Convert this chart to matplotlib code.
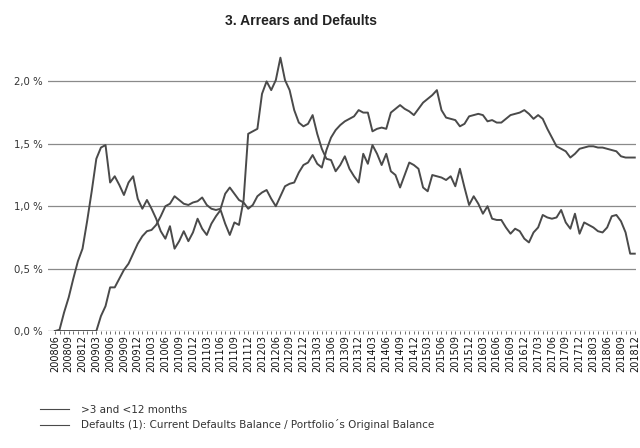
import matplotlib
matplotlib.use('Agg')
import matplotlib.pyplot as plt
import numpy as np
import pandas as pd

# monthly reporting dates 200806 .. 201812
months = list(pd.period_range('2008-06', '2018-12', freq='M').strftime('%Y%m'))

# >3 and <12 months arrears (% of portfolio)
arrears = [
    0.00, 0.01, 0.15, 0.27, 0.42, 0.56, 0.66, 0.88, 1.12, 1.38,
    1.47, 1.49, 1.19, 1.24, 1.17, 1.09, 1.19, 1.24, 1.06, 0.98,
    1.05, 0.98, 0.90, 0.80, 0.74, 0.84, 0.66, 0.72, 0.80, 0.72,
    0.79, 0.90, 0.82, 0.77, 0.86, 0.92, 0.97, 0.86, 0.77, 0.87,
    0.85, 1.05, 1.58, 1.60, 1.62, 1.90, 2.00, 1.93, 2.01, 2.19,
    2.01, 1.93, 1.77, 1.67, 1.64, 1.66, 1.73, 1.58, 1.46, 1.38,
    1.37, 1.28, 1.33, 1.40, 1.30, 1.24, 1.19, 1.42, 1.34, 1.49,
    1.42, 1.33, 1.42, 1.28, 1.25, 1.15, 1.25, 1.35, 1.33, 1.30,
    1.15, 1.12, 1.25, 1.24, 1.23, 1.21, 1.24, 1.16, 1.30, 1.15,
    1.01, 1.08, 1.02, 0.94, 1.00, 0.90, 0.89, 0.89, 0.83, 0.78,
    0.82, 0.80, 0.74, 0.71, 0.79, 0.83, 0.93, 0.91, 0.90, 0.91,
    0.97, 0.87, 0.82, 0.94, 0.78, 0.87, 0.85, 0.83, 0.80, 0.79,
    0.83, 0.92, 0.93, 0.88, 0.79, 0.62, 0.62,
]

# cumulative defaults / original balance (%)
defaults = [
    0.00, 0.00, 0.00, 0.00, 0.00, 0.00, 0.00, 0.00, 0.00, 0.00,
    0.12, 0.20, 0.35, 0.35, 0.42, 0.49, 0.54, 0.62, 0.70, 0.76,
    0.80, 0.81, 0.85, 0.92, 1.00, 1.02, 1.08, 1.05, 1.02, 1.01,
    1.03, 1.04, 1.07, 1.01, 0.98, 0.97, 0.98, 1.10, 1.15, 1.10,
    1.05, 1.03, 0.98, 1.01, 1.08, 1.11, 1.13, 1.06, 1.00, 1.08,
    1.16, 1.18, 1.19, 1.27, 1.33, 1.35, 1.41, 1.34, 1.31, 1.45,
    1.55, 1.61, 1.65, 1.68, 1.70, 1.72, 1.77, 1.75, 1.75, 1.60,
    1.62, 1.63, 1.62, 1.75, 1.78, 1.81, 1.78, 1.76, 1.73, 1.78,
    1.83, 1.86, 1.89, 1.93, 1.77, 1.71, 1.70, 1.69, 1.64, 1.66,
    1.72, 1.73, 1.74, 1.73, 1.68, 1.69, 1.67, 1.67, 1.70, 1.73,
    1.74, 1.75, 1.77, 1.74, 1.70, 1.73, 1.70, 1.62, 1.55, 1.48,
    1.46, 1.44, 1.39, 1.42, 1.46, 1.47, 1.48, 1.48, 1.47, 1.47,
    1.46, 1.45, 1.44, 1.40, 1.39, 1.39, 1.39,
]

y_ticks = [0.0, 0.5, 1.0, 1.5, 2.0]
y_labels = ['0,0 %', '0,5 %', '1,0 %', '1,5 %', '2,0 %']

x = np.arange(len(months))
line_col = '#4a4a4a'

fig = plt.figure(figsize=(6.4, 4.48), dpi=100)
ax = fig.add_axes([0.075, 0.261, 0.919, 0.627])

for v in y_ticks[1:]:
    ax.axhline(v, color='#8a8a8a', lw=0.9, zorder=1)
ax.axhline(0, color='#555555', lw=0.9, zorder=1)

l1, = ax.plot(x, arrears, color=line_col, lw=1.4, zorder=3,
              label='>3 and <12 months')
l2, = ax.plot(x, defaults, color=line_col, lw=1.4, zorder=3,
              label='Defaults (1): Current Defaults Balance / Portfolio\u00b4s Original Balance')

ax.set_xlim(-1.5, 126.3)
ax.set_ylim(0, 2.25)
for s in ax.spines.values():
    s.set_visible(False)

ax.set_yticks(y_ticks)
ax.set_yticklabels(y_labels, fontsize=7.3, color='#333333')
ax.tick_params(axis='y', length=0, pad=4)

ax.set_xticks(x[::3])
ax.set_xticklabels(months[::3], rotation=90, fontsize=7, color='#111111')
ax.set_xticks(x, minor=True)
ax.tick_params(axis='x', which='both', length=2, width=0.6, color='#555555', pad=1)

fig.text(0.47, 0.953, '3. Arrears and Defaults', ha='center', va='center',
         fontsize=10, fontweight='bold', family='Liberation Sans', color='#222222')

fig.legend(handles=[l1, l2], loc='upper left', bbox_to_anchor=(0.062, 0.097),
           frameon=False, fontsize=7.5, handlelength=2.8, handletextpad=1.2,
           labelspacing=0.45, borderpad=0, borderaxespad=0,
           labelcolor='#333333')
for h in fig.legends[0].legend_handles:
    h.set_linewidth(0.8)

fig.savefig('out.png', dpi=100)
